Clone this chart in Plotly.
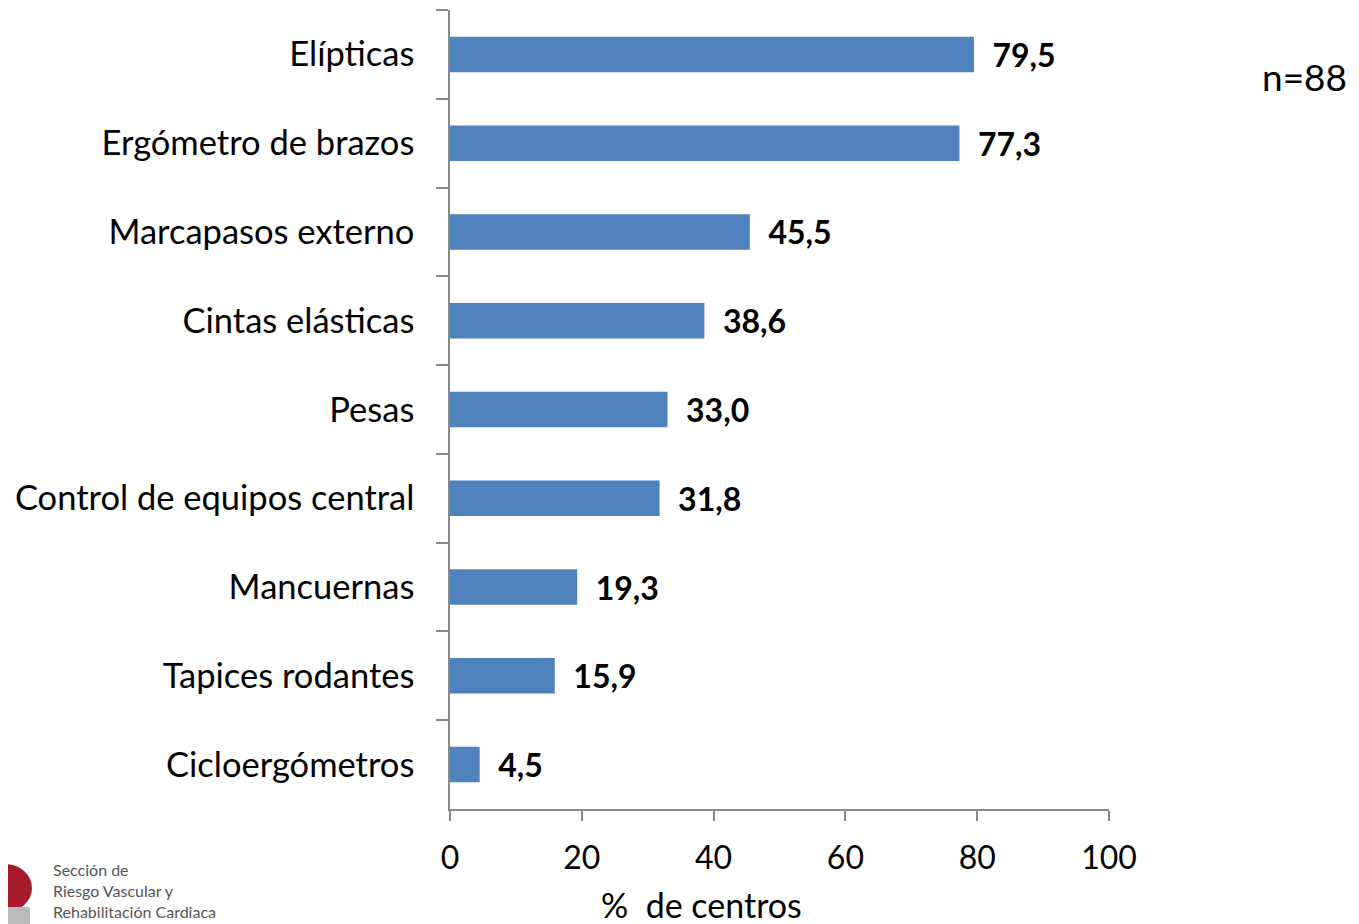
import plotly.graph_objects as go

# Data (top to bottom as shown)
categories = [
    "Elípticas",
    "Ergómetro de brazos",
    "Marcapasos externo",
    "Cintas elásticas",
    "Pesas",
    "Control de equipos central",
    "Mancuernas",
    "Tapices rodantes",
    "Cicloergómetros",
]
percent = [79.5, 77.3, 45.5, 38.6, 33.0, 31.8, 19.3, 15.9, 4.5]
x_ticks = [0, 20, 40, 60, 80, 100]

# page has an 8px body margin, so the figure is shifted by 8px
OFF = 8
W, H = 1359 - OFF, 924 - OFF
L, T = 450 - OFF, 10 - OFF
R = W - (1109 - OFF)
B = H - (809 - OFF)
PW, PH = W - L - R, H - T - B


def px(x):
    # screen x -> paper x
    return (x - OFF - L) / PW


def py(y):
    # screen y -> paper y
    return (H - B - (y - OFF)) / PH


FONT = "Lato, 'Open Sans', sans-serif"
AXIS_GRAY = "#888888"

labels = ["  " + f"{v:.1f}".replace(".", ",") for v in percent]

fig = go.Figure(go.Bar(
    x=percent,
    y=categories,
    orientation="h",
    width=0.4,
    marker=dict(color="#4F81BD", line=dict(width=0)),
    text=labels,
    textposition="outside",
    constraintext="none",
    textfont=dict(family=FONT, size=32, color="black", weight="bold"),
    cliponaxis=False,
))

fig.update_xaxes(
    range=[0, 100],
    tickvals=x_ticks,
    ticks="outside",
    ticklen=10,
    tickcolor=AXIS_GRAY,
    tickwidth=1.5,
    showline=True,
    linecolor=AXIS_GRAY,
    linewidth=1.5,
    showgrid=False,
    zeroline=False,
    tickfont=dict(family=FONT, size=32, color="black"),
    ticklabelstandoff=10,
)

fig.update_yaxes(
    autorange="reversed",
    ticks="outside",
    tickson="boundaries",
    ticklen=12,
    tickcolor=AXIS_GRAY,
    tickwidth=1.5,
    showline=True,
    linecolor=AXIS_GRAY,
    linewidth=1.5,
    showgrid=False,
    zeroline=False,
    tickfont=dict(family=FONT, size=34.5, color="black"),
    ticklabelstandoff=27,
)

# axis title and sample size
fig.add_annotation(
    text="%  de centros", xref="paper", yref="paper",
    x=px(701), y=py(904), xanchor="center", yanchor="middle",
    showarrow=False, font=dict(family=FONT, size=34, color="black"),
)
fig.add_annotation(
    text="n=88", xref="paper", yref="paper",
    x=px(1304), y=py(77), xanchor="center", yanchor="middle",
    showarrow=False, font=dict(family=FONT, size=37, color="black"),
)

# logo (partially cropped in the original)
fig.add_shape(
    type="circle", xref="paper", yref="paper",
    x0=px(-22), x1=px(32), y0=py(912), y1=py(864),
    fillcolor="#A5192A", line=dict(width=0),
)
fig.add_shape(
    type="rect", xref="paper", yref="paper",
    x0=px(8), x1=px(30), y0=py(924), y1=py(907),
    fillcolor="#BBBBBB", line=dict(width=0),
)
fig.add_annotation(
    text="Sección de<br>Riesgo Vascular y<br>Rehabilitación Cardiaca",
    xref="paper", yref="paper", x=px(52), y=py(922),
    xanchor="left", yanchor="bottom", align="left", showarrow=False,
    borderpad=0,
    font=dict(family=FONT, size=16, color="#555555"),
)

fig.update_layout(
    width=W,
    height=H,
    margin=dict(l=L, r=R, t=T, b=B, autoexpand=False),
    plot_bgcolor="white",
    paper_bgcolor="white",
    showlegend=False,
    separators=",.",
    font=dict(family=FONT),
)

fig.write_html("out.html")
